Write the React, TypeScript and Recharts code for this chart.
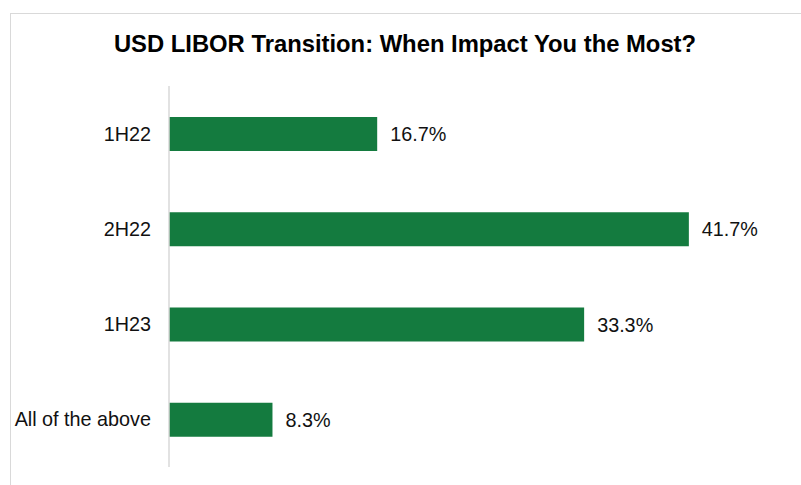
import { BarChart, Bar, XAxis, YAxis, LabelList } from 'recharts';

const categories = ['1H22', '2H22', '1H23', 'All of the above'];
const shares = [16.7, 41.7, 33.3, 8.3];

const data = categories.map((name, i) => ({ name, share: shares[i] }));

const font = '"Liberation Sans", Arial, sans-serif';

export default function App() {
  return (
    <div
      style={{
        position: 'fixed',
        left: 0,
        top: 0,
        width: 801,
        height: 485,
        overflow: 'hidden',
        background: '#fff',
        fontFamily: font,
      }}
    >
      <div
        style={{
          position: 'absolute',
          left: 10,
          top: 13,
          width: 800,
          height: 480,
          border: '1px solid #d9d9d9',
          boxSizing: 'border-box',
        }}
      />
      <div
        style={{
          position: 'absolute',
          left: 10,
          width: 790,
          top: 30,
          textAlign: 'center',
          fontSize: 23.8,
          fontWeight: 'bold',
          color: '#000',
          lineHeight: '28px',
        }}
      >
        USD LIBOR Transition: When Impact You the Most?
      </div>
      <div style={{ position: 'absolute', left: 0, top: 0 }}>
        <BarChart
          width={801}
          height={485}
          data={data}
          layout="vertical"
          margin={{ top: 86, right: 71, bottom: 18, left: 10 }}
        >
          <XAxis type="number" domain={[0, 45]} hide />
          <YAxis
            type="category"
            dataKey="name"
            width={159}
            axisLine={{ stroke: '#d9d9d9', strokeWidth: 1.5 }}
            tickLine={false}
            tickSize={6}
            tickMargin={12}
            tick={{ fontSize: 19.8, fill: '#111', fontFamily: font }}
          />
          <Bar dataKey="share" fill="#147B3F" barSize={34} isAnimationActive={false}>
            <LabelList
              dataKey="share"
              position="right"
              offset={13}
              formatter={(v: number) => `${v}%`}
              style={{ fontSize: 19.8, fill: '#111', fontFamily: font }}
            />
          </Bar>
        </BarChart>
      </div>
    </div>
  );
}
